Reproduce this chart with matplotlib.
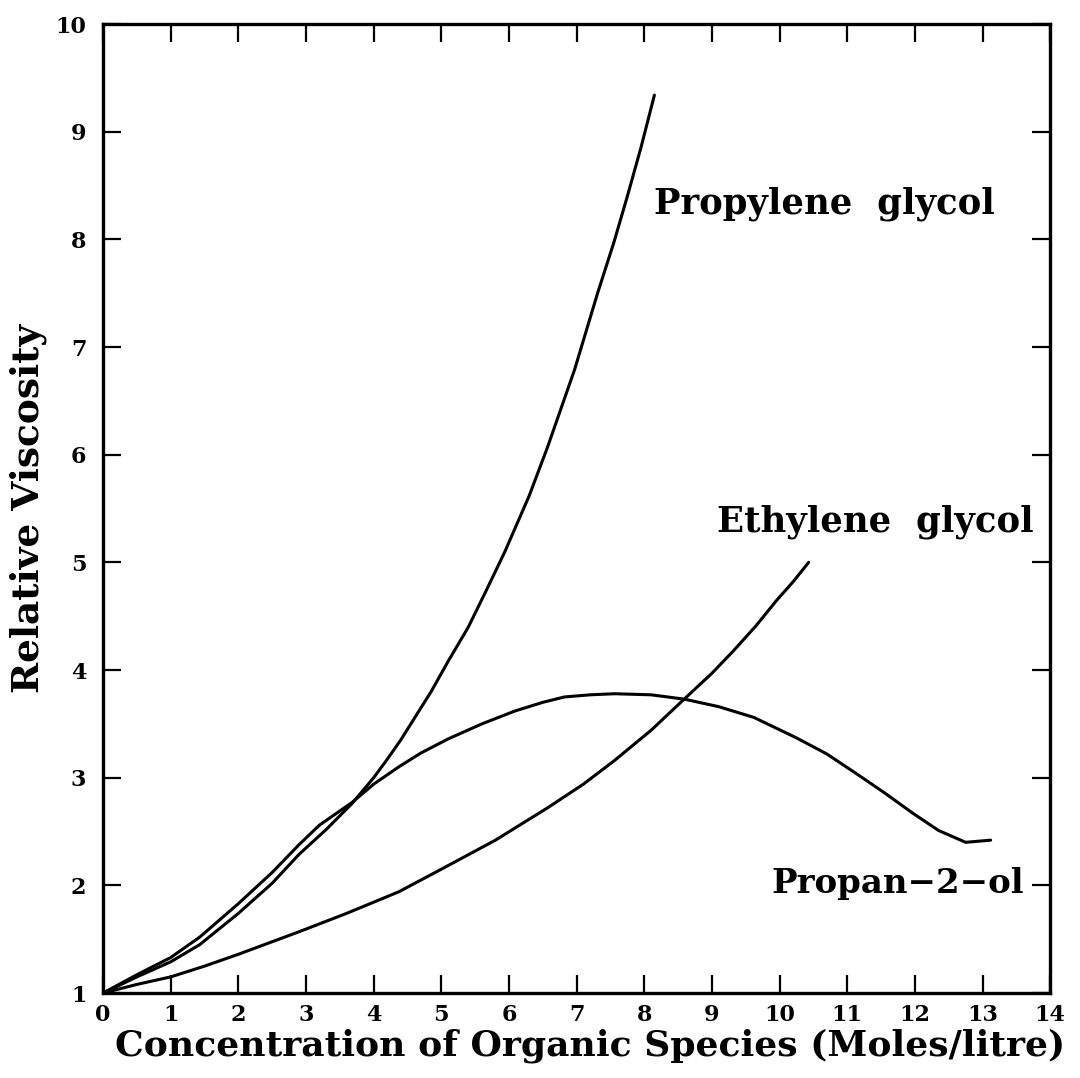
import matplotlib.pyplot as plt

# relative viscosity vs concentration
pg_conc = [0.0, 0.5, 1.0, 1.43, 2.0, 2.5, 2.9, 3.3, 3.68, 4.0, 4.2, 4.4, 4.6, 4.85, 5.1, 5.4, 5.65, 5.94, 6.3, 6.57, 6.97, 7.31, 7.55, 7.75, 7.95, 8.15]
pg_visc = [1.0, 1.15, 1.29, 1.45, 1.74, 2.02, 2.29, 2.52, 2.76, 3.0, 3.17, 3.35, 3.55, 3.8, 4.08, 4.4, 4.72, 5.1, 5.62, 6.07, 6.79, 7.5, 7.97, 8.4, 8.85, 9.34]

eg_conc = [0.0, 0.5, 1.0, 1.5, 2.0, 2.9, 3.6, 4.37, 5.0, 5.8, 6.57, 7.1, 7.56, 8.1, 8.59, 9.0, 9.32, 9.65, 9.96, 10.2, 10.43]
eg_visc = [1.0, 1.08, 1.15, 1.25, 1.36, 1.57, 1.74, 1.94, 2.15, 2.42, 2.72, 2.94, 3.16, 3.44, 3.73, 3.97, 4.18, 4.41, 4.65, 4.82, 5.0]

ip_conc = [0.0, 0.5, 1.0, 1.43, 2.0, 2.5, 2.9, 3.2, 3.68, 4.0, 4.37, 4.7, 5.1, 5.6, 6.09, 6.5, 6.82, 7.2, 7.56, 8.1, 8.59, 9.1, 9.62, 10.25, 10.7, 11.13, 11.55, 11.97, 12.35, 12.75, 13.12]
ip_visc = [1.0, 1.17, 1.33, 1.52, 1.83, 2.12, 2.38, 2.56, 2.77, 2.94, 3.1, 3.23, 3.36, 3.5, 3.62, 3.7, 3.75, 3.77, 3.78, 3.77, 3.73, 3.66, 3.56, 3.37, 3.22, 3.04, 2.86, 2.67, 2.51, 2.4, 2.42]

labels = ['Propylene  glycol', 'Ethylene  glycol', 'Propan\u22122\u2212ol']
label_pos = [(8.15, 8.33), (9.07, 5.38), (9.88, 2.02)]
label_size = [25.5, 25.5, 24.5]

plt.rcParams['font.family'] = ['DejaVu Serif']
plt.rcParams['font.weight'] = 'bold'

fig = plt.figure(figsize=(10.8, 10.78), dpi=100)
ax = fig.add_axes([0.0954, 0.0788, 0.877, 0.8989])

for xs, ys in [(pg_conc, pg_visc), (eg_conc, eg_visc), (ip_conc, ip_visc)]:
    ax.plot(xs, ys, color='black', lw=2.2, solid_joinstyle='round', solid_capstyle='round')

for text, (x, y), fs in zip(labels, label_pos, label_size):
    ax.text(x, y, text, fontsize=fs, fontweight='bold', va='center', ha='left')

ax.set_xlim(0, 14)
ax.set_ylim(1, 10)
ax.set_xticks(range(0, 15))
ax.set_yticks(range(1, 11))
ax.tick_params(direction='in', length=13, width=1.6, labelsize=16, pad=8)
ax.tick_params(axis='y', pad=12)
ax.tick_params(top=True, right=True)
for lab in ax.get_xticklabels() + ax.get_yticklabels():
    lab.set_fontweight('bold')
for side in ax.spines.values():
    side.set_linewidth(2.4)

ax.set_xlabel('Concentration of Organic Species (Moles/litre)', fontsize=26, fontweight='bold')
ax.xaxis.set_label_coords(0.514, -0.036, transform=ax.transAxes)
ax.xaxis.label.set_va('top')
ax.set_ylabel('Relative Viscosity', fontsize=27, fontweight='bold', labelpad=6)

fig.savefig('out.png', dpi=100)
